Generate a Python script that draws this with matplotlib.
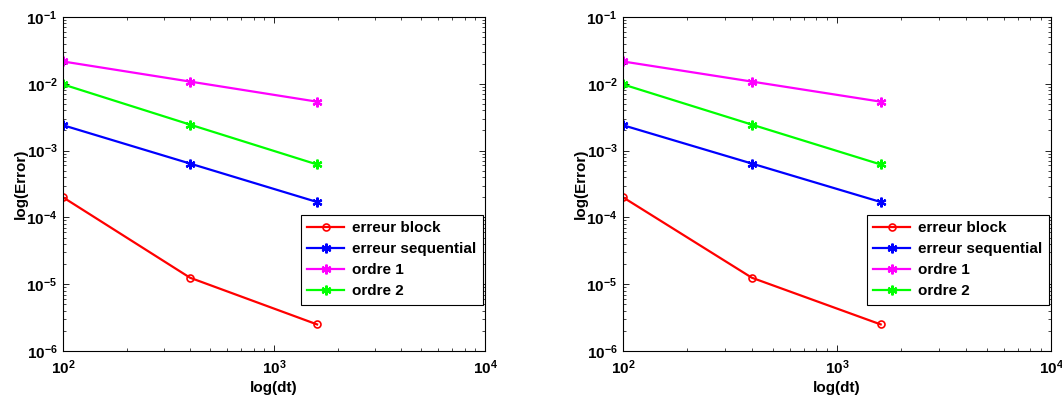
import numpy as np
import matplotlib
matplotlib.use('Agg')
import matplotlib.pyplot as plt

plt.rcParams['font.family'] = ['Liberation Sans', 'DejaVu Sans']
plt.rcParams['font.weight'] = 'bold'
plt.rcParams['mathtext.fontset'] = 'custom'
plt.rcParams['mathtext.rm'] = 'Liberation Sans:bold'
plt.rcParams['mathtext.bf'] = 'Liberation Sans:bold'
plt.rcParams['mathtext.default'] = 'rm'

dt = [100, 400, 1600]
erreur_block = [2.0e-4, 1.25e-5, 2.5e-6]
erreur_sequential = [2.4e-3, 6.4e-4, 1.7e-4]
ordre_1 = [0.0216, 0.0108, 0.0054]
ordre_2 = [0.0098, 0.00245, 0.00062]

series = [
    ('erreur block', erreur_block, 'red', 'o'),
    ('erreur sequential', erreur_sequential, 'blue', (6, 2, 0)),
    ('ordre 1', ordre_1, 'magenta', (6, 2, 0)),
    ('ordre 2', ordre_2, 'lime', (6, 2, 0)),
]

fig = plt.figure(figsize=(10.62, 4.03), dpi=100)
positions = [[63 / 1062, 1 - 351 / 403, 422 / 1062, 334 / 403],
             [623 / 1062, 1 - 351 / 403, 428 / 1062, 334 / 403]]

for pos in positions:
    ax = fig.add_axes(pos)
    for name, vals, col, mk in series:
        if mk == 'o':
            ax.plot(dt, vals, '-', color=col, marker=mk, markersize=5,
                    markerfacecolor='none', markeredgewidth=1.2, lw=1.6, label=name)
        else:
            ax.plot(dt, vals, '-', color=col, marker=mk, markersize=7,
                    markeredgewidth=1.6, lw=1.6, label=name)
    ax.set_xscale('log')
    ax.set_yscale('log')
    ax.set_xlim(1e2, 1e4)
    ax.set_ylim(1e-6, 1e-1)
    ax.set_xticks([1e2, 1e3, 1e4])
    ax.set_xticklabels([r'$10^{%d}$' % e for e in [2, 3, 4]])
    ax.set_yticks([10.0 ** e for e in range(-6, 0)])
    ax.set_yticklabels([r'$10^{%d}$' % e for e in range(-6, 0)])
    ax.set_xlabel('log(dt)', fontsize=11, fontweight='bold', labelpad=3)
    ax.set_ylabel('log(Error)', fontsize=11, fontweight='bold', labelpad=-1)
    ax.tick_params(which='both', direction='in', top=True, right=True, labelsize=11)
    ax.tick_params(axis='y', pad=4)
    ax.tick_params(axis='x', pad=5)
    ax.tick_params(which='major', length=4, width=0.6)
    ax.tick_params(which='minor', length=2, width=0.5)
    for s in ax.spines.values():
        s.set_linewidth(0.8)
    leg = ax.legend(loc='lower right', bbox_to_anchor=(0.995, 0.138), borderaxespad=0,
                    fancybox=False, edgecolor='black', framealpha=1,
                    prop={'size': 11, 'weight': 'bold'}, handlelength=2.4,
                    labelspacing=0.45, borderpad=0.45, handletextpad=0.5)
    leg.get_frame().set_linewidth(0.8)

fig.savefig('out.png', dpi=100)
